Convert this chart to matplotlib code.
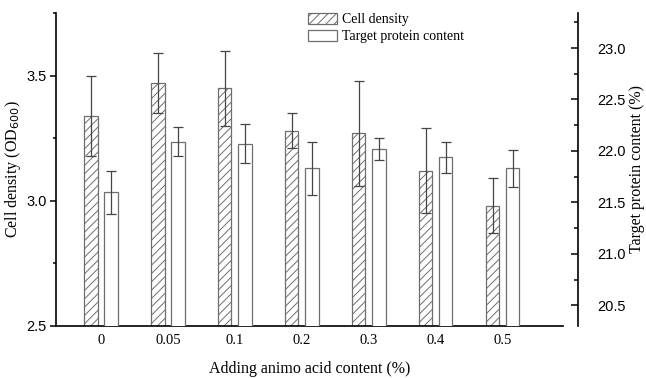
import numpy as np
import matplotlib
matplotlib.use("Agg")
import matplotlib.pyplot as plt
from matplotlib.patches import Patch
from matplotlib.ticker import MultipleLocator

# --- data ---
categories = ["0", "0.05", "0.1", "0.2", "0.3", "0.4", "0.5"]
cell_density = [3.34, 3.47, 3.45, 3.28, 3.27, 3.12, 2.98]
cell_err = [0.16, 0.12, 0.15, 0.07, 0.21, 0.17, 0.11]
protein = [21.60, 22.09, 22.07, 21.83, 22.02, 21.94, 21.83]
protein_err = [0.21, 0.14, 0.19, 0.26, 0.11, 0.15, 0.18]

SERIF = "Liberation Serif"
SANS = "Liberation Sans"
plt.rcParams["hatch.linewidth"] = 0.7
plt.rcParams["font.family"] = SERIF

fig = plt.figure(figsize=(6.46, 3.78), dpi=100)
ax = fig.add_axes([0.0867, 0.1376, 0.7848, 0.828])
ax2 = ax.twinx()

x = np.arange(len(categories))
w = 0.20
edge = "#6e6e6e"
errc = "#454545"

ax.bar(x - 0.15, cell_density, width=w, color="white",
       edgecolor=edge, hatch="////", lw=0.9, zorder=2)
ax.errorbar(x - 0.15, cell_density, yerr=cell_err, fmt="none", ecolor=errc,
            elinewidth=0.9, capsize=3.5, capthick=0.9, zorder=3)
ax2.bar(x + 0.15, protein, width=w, color="white", edgecolor=edge, lw=0.9,
        zorder=2)
ax2.errorbar(x + 0.15, protein, yerr=protein_err, fmt="none", ecolor=errc,
             elinewidth=0.9, capsize=3.5, capthick=0.9, zorder=3)

ax.set_xlim(-0.67, 6.9)
ax.set_ylim(2.5, 3.75)
ax2.set_ylim(20.3, 23.34)

# left axis
ax.yaxis.set_major_locator(MultipleLocator(0.5))
ax.yaxis.set_minor_locator(MultipleLocator(0.25))
ax.tick_params(axis="y", which="major", direction="out", length=4.3, width=1.1,
               pad=2.5, labelsize=10.5, labelfontfamily=SANS)
ax.tick_params(axis="y", which="minor", direction="out", length=2.5, width=1.1)
ax.set_xticks(x)
ax.set_xticklabels(categories, fontsize=10.5)
ax.tick_params(axis="x", length=0, pad=6)
ax.set_ylabel("Cell density (OD$_{600}$)", fontsize=11.5, labelpad=2)
ax.set_xlabel("Adding animo acid content (%)", fontsize=11.5, labelpad=10)

# right axis
ax2.yaxis.set_major_locator(MultipleLocator(0.5))
ax2.yaxis.set_minor_locator(MultipleLocator(0.25))
ax2.tick_params(axis="y", which="major", direction="in", length=5, width=1.1,
                pad=14, labelsize=10.5, labelfontfamily=SANS)
ax2.tick_params(axis="y", which="minor", direction="in", length=3, width=1.1)
ax2.set_ylabel("Target protein content (%)", fontsize=11.5, labelpad=2.5)

for s in ["top", "right"]:
    ax.spines[s].set_visible(False)
for s in ["top", "left", "bottom"]:
    ax2.spines[s].set_visible(False)
ax2.spines["right"].set_position(("outward", 10.8))
for a in (ax, ax2):
    for s in a.spines.values():
        s.set_linewidth(1.2)

handles = [Patch(facecolor="white", edgecolor=edge, hatch="////", lw=0.9),
           Patch(facecolor="white", edgecolor=edge, lw=0.9)]
ax.legend(handles, ["Cell density", "Target protein content"],
          loc="upper left", bbox_to_anchor=(0.497, 1.0), frameon=False,
          fontsize=10, borderpad=0, borderaxespad=0, handlelength=2.1,
          handleheight=0.85, handletextpad=0.35, labelspacing=0.25)

fig.savefig("out.png", dpi=100)
